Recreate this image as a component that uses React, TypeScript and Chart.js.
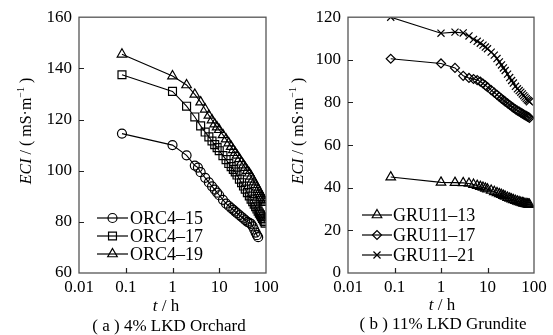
import React, { useEffect, useRef } from 'react';
import { Chart, registerables } from 'chart.js';
import { drawPoint } from 'chart.js/helpers';

Chart.register(...registerables);

const FAMILY = "'Liberation Serif', 'DejaVu Serif', serif";

// ---------- shared axis data ----------
const xTickValues = [0.01, 0.1, 1, 10, 100];
const xTickLabels = ['0.01', '0.1', '1', '10', '100'];

// ---------- panel (a): 4% LKD Orchard ----------
const orcNames = ['ORC4-15', 'ORC4-17', 'ORC4-19'];
const tOrc15 = [0.083, 1, 2, 3, 3.5, 4, 5, 6, 7, 8, 9, 10, 12, 14, 16, 18, 20, 22, 24, 27, 30, 33, 36, 40, 44, 48, 52, 56, 60, 64, 68];
const orc15 = [114.5, 110, 106, 102, 101.2, 99.4, 97.2, 95.4, 93.9, 92.6, 91.4, 90.4, 88.6, 87.1, 86.2, 85.4, 84.7, 84.0, 83.4, 82.6, 81.9, 81.3, 80.7, 80.0, 79.6, 79.2, 78.2, 77.0, 75.8, 74.8, 74.0];
const tOrc = [0.083, 1, 2, 3, 4, 5, 6, 7, 8, 9, 10, 12, 14, 16, 18, 20, 22, 24, 27, 30, 33, 36, 40, 44, 48, 52, 56, 60, 64, 68, 72, 76, 80, 84, 88, 92, 96];
const orc17 = [137.5, 131, 125.2, 121, 117.5, 115.1, 113.2, 111.6, 110.2, 109, 107.8, 105.9, 104.3, 102.8, 101.6, 100.5, 99.5, 98.3, 96.7, 95.3, 94, 92.8, 91.4, 90.1, 88.9, 87.9, 86.9, 85.9, 85, 84.2, 83.4, 82.7, 82, 81.3, 80.7, 80.1, 79.5];
const orc19 = [145.5, 137, 133.5, 129.8, 126.8, 124, 121.6, 119.8, 118.2, 117, 116, 114, 112.3, 110.8, 109.4, 108.1, 107, 106, 104.6, 103.3, 102.2, 101.2, 100, 99, 97.8, 96.6, 95.5, 94.5, 93.5, 92.6, 91.7, 90.9, 90.1, 89.4, 88.7, 88.1, 87.5];
const yTicksA = [60, 80, 100, 120, 140, 160];

// ---------- panel (b): 11% LKD Grundite ----------
const gruNames = ['GRU11-13', 'GRU11-17', 'GRU11-21'];
const tGru = [0.083, 1, 2, 3, 4, 5, 6, 7, 8, 9, 10, 12, 14, 16, 18, 20, 22, 24, 27, 30, 33, 36, 40, 44, 48, 52, 56, 60, 64, 68, 72, 76, 80];
const gru13 = [45, 42.5, 42.4, 42.3, 42, 41.5, 41, 40.5, 40.1, 39.7, 39.3, 38.7, 38.1, 37.6, 37.1, 36.7, 36.3, 35.9, 35.4, 35, 34.6, 34.3, 33.9, 33.6, 33.3, 33.1, 32.9, 32.7, 32.5, 32.4, 32.3, 32.2, 32.1];
const gru17 = [100.5, 98.3, 96.2, 92.5, 91.5, 91, 90.5, 89.8, 88.9, 88, 87.2, 85.8, 84.6, 83.6, 82.6, 81.8, 81.1, 80.4, 79.6, 78.8, 78.1, 77.5, 76.8, 76.2, 75.7, 75.2, 74.8, 74.4, 74, 73.7, 73.4, 73.1, 72.8];
const gru21 = [120, 112.5, 113, 112.6, 111.2, 109.6, 108.7, 107.8, 106.9, 106, 105.2, 103.6, 102.2, 100.6, 99, 97.6, 96.2, 95, 93.3, 91.7, 90.3, 89.1, 87.6, 86.4, 85.6, 84.8, 84, 83.2, 82.5, 81.8, 81.2, 80.8, 80.3];
const yTicksB = [0, 20, 40, 60, 80, 100, 120];

const toPts = (ts: number[], vs: number[]) => ts.map((t, i) => ({ x: t, y: vs[i] }));

type Seg = { text: string; italic?: boolean; sup?: boolean };

function drawRich(ctx: CanvasRenderingContext2D, segs: Seg[], x: number, y: number, size: number, rotate: boolean) {
  const fontFor = (s: Seg) => `${s.italic ? 'italic ' : ''}${s.sup ? Math.round(size * 0.62) : size}px ${FAMILY}`;
  const widths = segs.map((s) => {
    ctx.font = fontFor(s);
    return ctx.measureText(s.text).width;
  });
  const total = widths.reduce((a, b) => a + b, 0);
  ctx.save();
  ctx.translate(x, y);
  if (rotate) ctx.rotate(-Math.PI / 2);
  ctx.textBaseline = 'alphabetic';
  ctx.textAlign = 'left';
  ctx.fillStyle = '#000';
  let cx = -total / 2;
  segs.forEach((s, i) => {
    ctx.font = fontFor(s);
    ctx.fillText(s.text, cx, s.sup ? size * 0.35 - size * 0.4 : size * 0.35);
    cx += widths[i];
  });
  ctx.restore();
}

const decor = {
  id: 'decor',
  afterDraw(chart: any, _args: any, opts: any) {
    const { ctx, chartArea: a, scales } = chart;
    ctx.save();
    // frame
    ctx.strokeStyle = '#555';
    ctx.lineWidth = 1.3;
    ctx.strokeRect(a.left, a.top, a.right - a.left, a.bottom - a.top);
    // inward ticks
    ctx.strokeStyle = '#222';
    ctx.lineWidth = 1.2;
    ctx.beginPath();
    scales.x.ticks.forEach((t: any) => {
      const px = Math.round(scales.x.getPixelForValue(t.value)) + 0.5;
      if (px > a.left + 2 && px < a.right - 2) {
        ctx.moveTo(px, a.bottom);
        ctx.lineTo(px, a.bottom - 5);
      }
    });
    scales.y.ticks.forEach((t: any) => {
      const py = Math.round(scales.y.getPixelForValue(t.value)) + 0.5;
      if (py > a.top + 2 && py < a.bottom - 2) {
        ctx.moveTo(a.left, py);
        ctx.lineTo(a.left + 5, py);
      }
    });
    ctx.stroke();

    // legend
    const lg = opts.legend;
    chart.data.datasets.forEach((ds: any, i: number) => {
      const y = lg.ys[i];
      ctx.strokeStyle = '#000';
      ctx.lineWidth = 1.2;
      ctx.beginPath();
      ctx.moveTo(lg.x0, y);
      ctx.lineTo(lg.x1, y);
      ctx.stroke();
      ctx.fillStyle = 'rgba(0,0,0,0)';
      ctx.strokeStyle = '#000';
      ctx.lineWidth = 1.2;
      drawPoint(ctx, { pointStyle: ds.pointStyle, radius: ds.pointRadius, borderWidth: 1.2, rotation: 0 } as any, (lg.x0 + lg.x1) / 2, y);
      ctx.fillStyle = '#000';
      ctx.font = `18px ${FAMILY}`;
      ctx.textAlign = 'left';
      ctx.textBaseline = 'middle';
      ctx.fillText(ds.label.replace('-', '\u2013'), lg.tx, y + 1);
    });

    // titles
    drawRich(ctx, [
      { text: 'ECI', italic: true },
      { text: ' / ( mS\u00b7m' },
      { text: '\u22121', sup: true },
      { text: ' )' },
    ], opts.yTitle[0], opts.yTitle[1], 16, true);
    drawRich(ctx, [{ text: 't', italic: true }, { text: ' / h' }], opts.xTitle[0], opts.xTitle[1], 17, false);
    drawRich(ctx, [{ text: opts.caption }], opts.cap[0], opts.cap[1], 17, false);
    ctx.restore();
  },
};

function makeConfig(p: any) {
  const ds = (label: string, pts: any[], style: string, r: number) => ({
    label,
    data: pts,
    showLine: true,
    borderColor: '#000',
    borderWidth: 1.1,
    pointStyle: style,
    pointRadius: r,
    pointBorderColor: '#000',
    pointBackgroundColor: 'rgba(0,0,0,0)',
    pointBorderWidth: 1.2,
    tension: 0,
    fill: false,
  });
  return {
    type: 'scatter',
    data: {
      datasets: p.series.map((s: any) => ds(s.name, s.pts, s.style, s.r)),
    },
    plugins: [decor],
    options: {
      responsive: false,
      animation: false,
      events: [],
      layout: { padding: p.padding },
      plugins: {
        legend: { display: false },
        tooltip: { enabled: false },
        title: { display: false },
        decor: p.decor,
      },
      scales: {
        x: {
          type: 'logarithmic',
          min: 0.01,
          max: 100,
          afterBuildTicks: (s: any) => {
            s.ticks = xTickValues.map((v) => ({ value: v }));
          },
          afterFit: (s: any) => {
            s.height = p.xHeight;
          },
          ticks: {
            autoSkip: false,
            maxRotation: 0,
            padding: 4,
            color: '#000',
            font: { family: FAMILY, size: 17 },
            callback: (v: number) => {
              const i = xTickValues.findIndex((t) => Math.abs(t - v) < t * 1e-6);
              return i >= 0 ? xTickLabels[i] : '';
            },
          },
          grid: { display: false, drawTicks: false },
          border: { display: false },
        },
        y: {
          type: 'linear',
          min: p.yTicks[0],
          max: p.yTicks[p.yTicks.length - 1],
          afterBuildTicks: (s: any) => {
            s.ticks = p.yTicks.map((v: number) => ({ value: v }));
          },
          afterFit: (s: any) => {
            s.width = p.yWidth;
          },
          ticks: {
            padding: 7,
            color: '#000',
            font: { family: FAMILY, size: 17 },
          },
          grid: { display: false, drawTicks: false },
          border: { display: false },
        },
      },
    },
  };
}

const W = 553;
const H = 335;

function Panel({ cfg }: { cfg: any }) {
  const ref = useRef<HTMLCanvasElement>(null);
  useEffect(() => {
    if (!ref.current) return;
    const chart = new Chart(ref.current, makeConfig(cfg) as any);
    return () => chart.destroy();
  }, []);
  return (
    <canvas
      ref={ref}
      width={W}
      height={H}
      style={{ position: 'absolute', left: 0, top: 0, width: W, height: H }}
    />
  );
}

const panelA = {
  series: [
    { name: orcNames[0], pts: toPts(tOrc15, orc15), style: 'circle', r: 4.5 },
    { name: orcNames[1], pts: toPts(tOrc, orc17), style: 'rect', r: 5.6 },
    { name: orcNames[2], pts: toPts(tOrc, orc19), style: 'triangle', r: 5.5 },
  ],
  yTicks: yTicksA,
  padding: { left: 0, top: 14, right: W - 266, bottom: 0 },
  yWidth: 79,
  xHeight: H - 273,
  decor: {
    legend: { x0: 97, x1: 128, tx: 130, ys: [218, 236, 254] },
    yTitle: [25, 131],
    xTitle: [166, 305],
    cap: [169, 325],
    caption: '( a ) 4% LKD Orchard',
  },
};

const panelB = {
  series: [
    { name: gruNames[0], pts: toPts(tGru, gru13), style: 'triangle', r: 5.5 },
    { name: gruNames[1], pts: toPts(tGru, gru17), style: 'rectRot', r: 4.5 },
    { name: gruNames[2], pts: toPts(tGru, gru21), style: 'crossRot', r: 5 },
  ],
  yTicks: yTicksB,
  padding: { left: 348 - 79, top: 16, right: W - 534, bottom: 0 },
  yWidth: 79,
  xHeight: H - 273,
  decor: {
    legend: { x0: 362, x1: 392, tx: 393, ys: [215, 235, 255] },
    yTitle: [297, 131],
    xTitle: [442, 304],
    cap: [443, 323],
    caption: '( b ) 11% LKD Grundite',
  },
};

export default function App() {
  return (
    <div style={{ position: 'absolute', left: 0, top: 0, width: W, height: H, background: '#fff' }}>
      <Panel cfg={panelA} />
      <Panel cfg={panelB} />
    </div>
  );
}
